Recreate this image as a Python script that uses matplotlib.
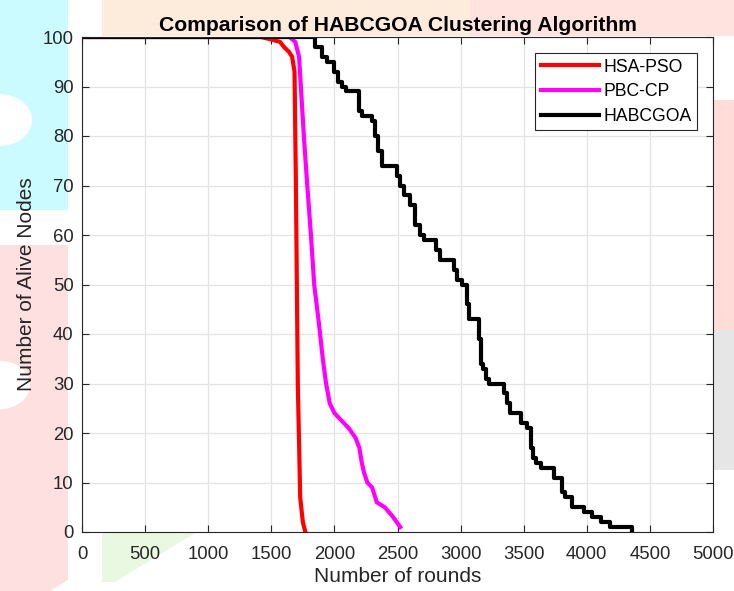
import matplotlib
matplotlib.use("Agg")
import matplotlib.pyplot as plt
from matplotlib.patches import Polygon, Circle

plt.rcParams['font.family'] = ['Liberation Sans', 'DejaVu Sans']

# HSA-PSO (red)
hsa_x = [0, 1420, 1500, 1570, 1600, 1640, 1665, 1684, 1695, 1710, 1729, 1750, 1770]
hsa_y = [100, 100, 99.5, 99, 98, 97, 96, 93, 70, 30, 7, 2, 0]

# PBC-CP (magenta)
pbc_x = [0, 1645, 1690, 1720, 1758, 1785, 1814, 1840, 1878, 1908, 1934, 1963, 2001,
         2038, 2113, 2168, 2198, 2217, 2235, 2261, 2299, 2336, 2399, 2466, 2522]
pbc_y = [100, 100, 99, 96, 80, 70, 60, 50, 42, 35, 30, 26, 24,
         23, 21, 19, 17, 14, 12, 10, 9, 6, 5, 3, 1]

# HABCGOA (black, stepwise)
hab_x = [0, 1850, 1905, 1945, 1993, 2027, 2060, 2094, 2150, 2198, 2215, 2243, 2300,
         2320, 2345, 2375, 2392, 2496, 2520, 2555, 2600, 2640, 2675, 2709, 2745,
         2805, 2835, 2869, 2951, 2975, 3010, 3051, 3070, 3100, 3145, 3160, 3175,
         3200, 3225, 3249, 3342, 3365, 3395, 3424, 3480, 3530, 3555, 3575, 3600,
         3640, 3688, 3740, 3770, 3800, 3830, 3882, 3975, 4040, 4110, 4185, 4355]
hab_y = [100, 98, 96, 95, 93, 91, 90, 89, 89, 85, 84, 84, 83,
         80, 77, 74, 74, 72, 70, 68, 66, 62, 60, 59, 59,
         57, 55, 55, 53, 51, 50, 46, 43, 43, 39, 34, 33,
         31, 30, 30, 28, 26, 24, 24, 22, 21, 17, 15, 14,
         13, 13, 11, 11, 8, 7, 5, 4, 3, 2, 1, 0]

xticks = list(range(0, 5001, 500))
yticks = list(range(0, 101, 10))

W, H = 734.0, 591.0
fig = plt.figure(figsize=(7.34, 5.91), dpi=100)


def px(points):
    return [(x / W, 1 - y / H) for x, y in points]


# faint watermark shapes in the background (figure pixel coords)
wm = [
    ([(0, 0), (68, 0), (68, 210), (0, 210)], '#ccfbff'),
    ([(0, 245), (68, 245), (68, 580), (50, 591), (0, 591)], '#ffe0e0'),
    ([(102, 533), (195, 533), (115, 582), (102, 582)], '#e9f8e1'),
    ([(102, 0), (470, 0), (470, 36), (102, 36)], '#fdebdc'),
    ([(470, 0), (734, 0), (734, 36), (470, 36)], '#ffe3df'),
    ([(713, 100), (734, 100), (734, 330), (713, 330)], '#ffdcd8'),
    ([(713, 330), (734, 330), (734, 470), (713, 470)], '#e6e6e6'),
]
for pts, col in wm:
    fig.patches.append(Polygon(px(pts), closed=True, transform=fig.transFigure,
                               facecolor=col, edgecolor='none', zorder=-10))
fig.patches.append(Circle((0.0, 1 - 120 / H), 32 / W, transform=fig.transFigure,
                          facecolor='white', edgecolor='none', zorder=-9))
fig.patches.append(Circle((0.0, 1 - 385 / H), 30 / W, transform=fig.transFigure,
                          facecolor='white', edgecolor='none', zorder=-9))

ax = fig.add_axes([82 / W, 1 - 532 / H, 631 / W, 495 / H])
ax.set_facecolor('white')

ax.plot(hsa_x, hsa_y, color='#ff0000', lw=3, label='HSA-PSO')
ax.plot(pbc_x, pbc_y, color='#ff00ff', lw=3, label='PBC-CP')
ax.plot(hab_x, hab_y, color='black', lw=3, drawstyle='steps-post', label='HABCGOA')

ax.set_xlim(0, 5000)
ax.set_ylim(0, 100)
ax.set_xticks(xticks)
ax.set_yticks(yticks)
ax.tick_params(direction='in', top=True, right=True, labelsize=13.3,
               colors='#262626', length=5, width=0.8)
ax.tick_params(axis='x', pad=10.3)
ax.tick_params(axis='y', pad=6)
ax.grid(True, color='#e3e3e3', lw=0.9)
for s in ax.spines.values():
    s.set_color('#262626')
    s.set_linewidth(0.8)

ax.set_xlabel('Number of rounds', fontsize=15, color='#262626', labelpad=2.5)
ax.set_ylabel('Number of Alive Nodes', fontsize=15, color='#262626', labelpad=5)
ax.set_title('Comparison of HABCGOA Clustering Algorithm', fontsize=15.2,
             fontweight='bold', pad=4.5)

leg = ax.legend(loc='upper right', bbox_to_anchor=(615 / 631, (532 - 53) / 495),
                borderaxespad=0, fontsize=12.7,
                handlelength=3.3, handletextpad=0.23, borderpad=0.32,
                labelspacing=0.43, fancybox=False, framealpha=1,
                edgecolor='#262626')
leg.get_frame().set_linewidth(0.8)

fig.savefig('out.png', dpi=100)
